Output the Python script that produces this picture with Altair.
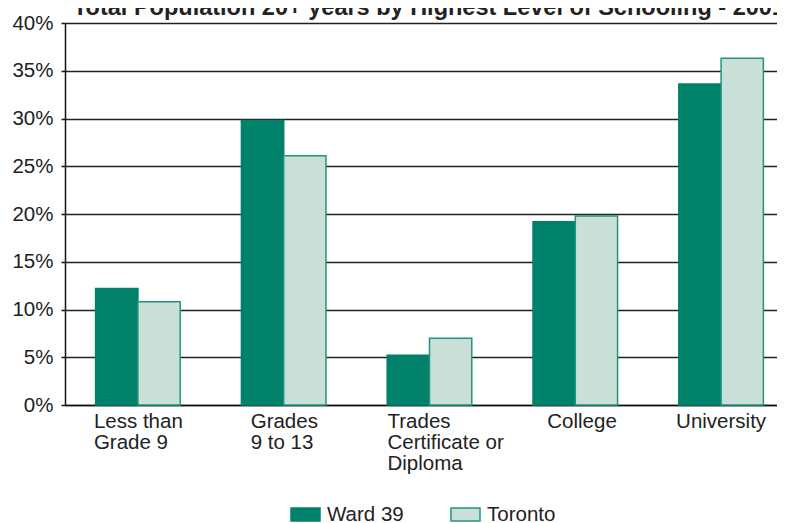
import altair as alt
import pandas as pd

title_text = "Total Population 20+ years by Highest Level of Schooling - 2001"
categories = ["Less than Grade 9", "Grades 9 to 13", "Trades Certificate or Diploma", "College", "University"]
label_lines = [["Less than", "Grade 9"], ["Grades", "9 to 13"], ["Trades", "Certificate or", "Diploma"], ["College"], ["University"]]
label_shift = [-44, -33, -42, -28, -45]
series = ["Ward 39", "Toronto"]
ward39 = [12.2, 29.8, 5.2, 19.2, 33.6]
toronto = [10.8, 26.1, 7.0, 19.8, 36.3]

rows = []
for c, w, t in zip(categories, ward39, toronto):
    rows.append({"category": c, "series": "Ward 39", "value": w / 100})
    rows.append({"category": c, "series": "Toronto", "value": t / 100})
df = pd.DataFrame(rows)

FONT = "Liberation Sans"
TXT = "#222222"

def js_list(lst):
    return "[" + ",".join("'" + s + "'" for s in lst) + "]"

label_expr = ""
for c, lines in zip(categories, label_lines):
    label_expr += f"datum.value == '{c}' ? {js_list(lines)} : "
label_expr += "datum.label"

offset_cond = [{"test": f"datum.value == '{c}'", "value": s} for c, s in zip(categories, label_shift)]

fill_scale = alt.Scale(domain=series, range=["#008169", "#C9DFD8"])
stroke_scale = alt.Scale(domain=series, range=["#008169", "#1F9680"])

legend = alt.Legend(
    title=None, orient="none", direction="horizontal", legendX=225, legendY=476,
    symbolType="M-1,-0.45H1V0.45H-1Z", symbolSize=841, symbolStrokeWidth=1.5,
    labelFont=FONT, labelFontSize=20.5, labelColor=TXT, labelOffset=6,
    columnPadding=44, symbolOpacity=1,
)

bars = alt.Chart(df).mark_bar(strokeWidth=1.5, opacity=1).encode(
    x=alt.X("category:N", sort=categories, title=None,
            scale=alt.Scale(range=[0, 729], paddingInner=0.42, paddingOuter=0.21),
            axis=alt.Axis(labelAngle=0, labelExpr=label_expr, labelAlign="left",
                          labelOffset={"condition": offset_cond, "value": 0},
                          labelBaseline="top", labelPadding=6, ticks=False,
                          labelFont=FONT, labelFontSize=20.5, labelColor=TXT,
                          labelLineHeight=21, domainColor="#111111", domainWidth=1.5,
                          grid=False, labelLimit=300)),
    xOffset=alt.XOffset("series:N", sort=series, scale=alt.Scale(paddingInner=0, paddingOuter=0)),
    y=alt.Y("value:Q", title=None,
            scale=alt.Scale(domain=[0, 0.4], nice=False),
            axis=alt.Axis(format=".0%", values=[0, 0.05, 0.1, 0.15, 0.2, 0.25, 0.3, 0.35, 0.4],
                          tickSize=4, tickColor="#111111", tickWidth=1.5,
                          labelFont=FONT, labelFontSize=20.5, labelColor=TXT, labelPadding=8,
                          domainColor="#111111", domainWidth=1.5,
                          gridColor="#222222", gridWidth=1.5)),
    fill=alt.Fill("series:N", scale=fill_scale, sort=series, legend=legend),
    stroke=alt.Stroke("series:N", scale=stroke_scale, sort=series, legend=legend),
)

title_mark = alt.Chart(pd.DataFrame({"t": [title_text]})).mark_text(
    align="left", baseline="alphabetic", font=FONT, fontSize=23.5, fontWeight="bold", color=TXT,
).encode(text="t:N", x=alt.value(8), y=alt.value(-8))

chart = alt.layer(bars, title_mark).properties(
    width=712, height=382,
    autosize=alt.AutoSizeParams(type="none"),
    padding={"left": 57, "top": 15, "right": 0, "bottom": 118},
).configure_view(stroke=None).configure(background="white")

chart.save("out.html", embed_options={"renderer": "svg", "actions": False})
